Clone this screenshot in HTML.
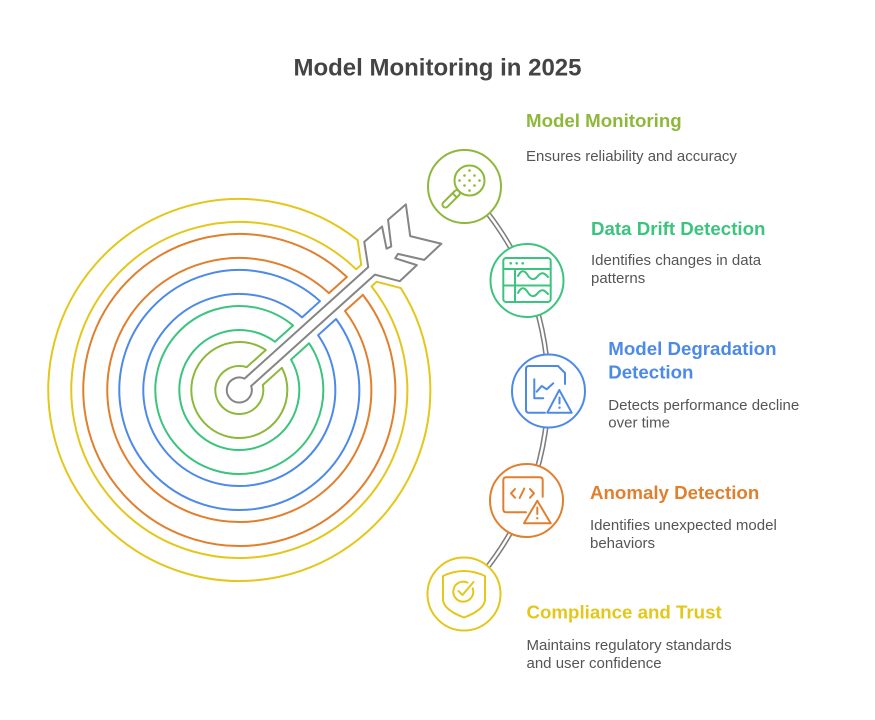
<!DOCTYPE html>
<html>
<head>
<meta charset="utf-8">
<style>
  html,body{margin:0;padding:0;background:#ffffff;}
  body{width:875px;height:720px;overflow:hidden;}
  svg{display:block;}
  .t{font-family:"Liberation Sans",Arial,sans-serif;}
</style>
</head>
<body>
<svg width="875" height="720" viewBox="0 0 875 720" xmlns="http://www.w3.org/2000/svg">
  <rect width="875" height="720" fill="#ffffff"/>

  <!-- Title -->
  <text class="t" x="437.5" y="75.5" text-anchor="middle" font-size="24" font-weight="bold" fill="#444444">Model Monitoring in 2025</text>

  <!-- Target rings + arrow -->
  <g transform="translate(239.3,390) rotate(-42)" fill="none" stroke-width="2" stroke-linejoin="round">
    <path stroke="#8DB83A" d="M46.48,12 A48,48 0 1 1 46.48,-12 L20.78,-12 A24,24 0 1 0 20.78,12 Z"/>
    <path stroke="#3CC47F" d="M83.14,12 A84,84 0 1 1 83.14,-12 L58.79,-12 A60,60 0 1 0 58.79,12 Z"/>
    <path stroke="#4D8AE8" d="M119.40,12 A120,120 0 1 1 119.40,-12 L95.25,-12 A96,96 0 1 0 95.25,12 Z"/>
    <path stroke="#E07F2E" d="M155.54,12 A156,156 0 1 1 155.54,-12 L131.45,-12 A132,132 0 1 0 131.45,12 Z"/>
    <path stroke="#E4C71C" d="M188.25,32.3 A191,191 0 1 1 188.25,-32.3 L174.5,-11.5 L167.6,-11.5 A168,168 0 1 0 167.6,11.5 L174.5,11.5 Z"/>
    <path stroke="#858585" d="M11.46,-5 L178,-5 L192,-26.5 L215.5,-26 L204,-6.5 L209,-5 L224.5,-27 L248,-26.5 L230,0 L248,26.5 L224.5,27 L209,5 L204,6.5 L215.5,26 L192,26.5 L178,5 L11.46,5 A12.5,12.5 0 1 1 11.46,-5 Z"/>
  </g>

  <!-- Connector rails -->
  <path d="M464.5,186.5 A306,306 0 0 1 527,280.5 A306,306 0 0 1 548.5,391 A306,306 0 0 1 526.5,500.5 A306,306 0 0 1 464,594" fill="none" stroke="#7d7d7d" stroke-width="5.5"/>
  <path d="M464.5,186.5 A306,306 0 0 1 527,280.5 A306,306 0 0 1 548.5,391 A306,306 0 0 1 526.5,500.5 A306,306 0 0 1 464,594" fill="none" stroke="#ffffff" stroke-width="2.4"/>

  <!-- Icon circles -->
  <circle cx="464.5" cy="186.5" r="36.5" fill="#ffffff" stroke="#8DB83A" stroke-width="2"/>
  <circle cx="527" cy="280.5" r="36.5" fill="#ffffff" stroke="#3CC47F" stroke-width="2"/>
  <circle cx="548.5" cy="391" r="36.5" fill="#ffffff" stroke="#4D8AE8" stroke-width="2"/>
  <circle cx="526.5" cy="500.5" r="36.5" fill="#ffffff" stroke="#E07F2E" stroke-width="2"/>
  <circle cx="464" cy="594" r="36.5" fill="#ffffff" stroke="#E4C71C" stroke-width="2"/>

  <!-- Icon 1: magnifier with dots -->
  <g stroke="#8DB83A" stroke-width="2" fill="none" stroke-linejoin="round">
    <g transform="translate(469.5,180.5) rotate(135)">
      <circle cx="0" cy="0" r="15"/>
      <rect x="15" y="-3" width="22" height="6" rx="3"/>
      <line x1="21" y1="-3" x2="21" y2="3"/>
    </g>
  </g>
  <g fill="#8DB83A">
    <circle cx="469.5" cy="170.5" r="1.3"/>
    <circle cx="464.5" cy="175.5" r="1.3"/>
    <circle cx="474.5" cy="175.5" r="1.3"/>
    <circle cx="459.5" cy="180.5" r="1.3"/>
    <circle cx="469.5" cy="180.5" r="1.3"/>
    <circle cx="479.5" cy="180.5" r="1.3"/>
    <circle cx="464.5" cy="185.5" r="1.3"/>
    <circle cx="474.5" cy="185.5" r="1.3"/>
    <circle cx="469.5" cy="190.5" r="1.3"/>
  </g>

  <!-- Icon 2: data drift window -->
  <g stroke="#3CC47F" stroke-width="2" fill="none" stroke-linejoin="round" stroke-linecap="round">
    <rect x="503.3" y="258" width="47.4" height="44" rx="3"/>
    <line x1="503.3" y1="269" x2="550.7" y2="269"/>
    <line x1="515" y1="269" x2="515" y2="302"/>
    <line x1="503.3" y1="285.5" x2="550.7" y2="285.5"/>
    <path d="M518,276 C521,270 524,270 527,274 C530,279 533,281 537,277 C540,273 543,272 546,275 L548,277"/>
    <path d="M518,293 C521,287 524,287 527,291 C530,296 533,298 537,294 C540,290 543,289 546,292 L548,294"/>
  </g>
  <g fill="#3CC47F">
    <circle cx="510.7" cy="263.3" r="1.3"/>
    <circle cx="516.7" cy="263.3" r="1.3"/>
    <circle cx="522.7" cy="263.3" r="1.3"/>
  </g>

  <!-- Icon 3: chart document with warning -->
  <g stroke="#4D8AE8" stroke-width="2" fill="none" stroke-linejoin="round" stroke-linecap="round">
    <path d="M565,384 L565,373 L558,366 L529,366 Q526,366 526,369 L526,409.7 Q526,412.7 529,412.7 L545,412.7"/>
    <path d="M534.3,379.3 L534.3,398.3 L543.3,398.3"/>
    <path d="M536.7,391.7 L541.7,386 L546.7,389.3 L553.3,383.3"/>
    <path d="M559.3,390 L571.7,412.7 L547.3,412.7 Z"/>
    <line x1="559.5" y1="397.5" x2="559.5" y2="403.5"/>
  </g>
  <circle cx="559.5" cy="407.7" r="1.2" fill="#4D8AE8"/>

  <!-- Icon 4: code window with warning -->
  <g stroke="#E07F2E" stroke-width="2" fill="none" stroke-linejoin="round" stroke-linecap="round">
    <path d="M526,512.3 L506.3,512.3 Q503.3,512.3 503.3,509.3 L503.3,480.3 Q503.3,477.3 506.3,477.3 L539.7,477.3 Q542.7,477.3 542.7,480.3 L542.7,496.7"/>
    <path d="M515,489 L511,493.3 L515,497.7"/>
    <path d="M524.3,488.5 L519.7,498"/>
    <path d="M530,489 L534,493.3 L530,497.7"/>
    <path d="M537.3,500.7 L550.7,523.3 L524,523.3 Z"/>
    <line x1="537.3" y1="507.5" x2="537.3" y2="514"/>
  </g>
  <circle cx="537.3" cy="518.3" r="1.2" fill="#E07F2E"/>

  <!-- Icon 5: shield with check -->
  <g stroke="#E4C71C" stroke-width="2" fill="none" stroke-linejoin="round" stroke-linecap="round">
    <path d="M443,576 Q464,566 485,576 L485,600 Q484,610 464,617.5 Q444,610 443,600 Z"/>
    <path d="M472.7,588.3 A10,10 0 1 1 467.5,582.6"/>
    <path d="M458.5,591 L462.5,595 L473.5,582"/>
  </g>

  <!-- Labels -->
  <g class="t">
    <text x="526" y="127" font-size="18.7" font-weight="bold" fill="#8DB83A">Model Monitoring</text>
    <text x="526" y="161" font-size="15" fill="#555555">Ensures reliability and accuracy</text>

    <text x="591" y="235" font-size="18.7" font-weight="bold" fill="#3CC47F">Data Drift Detection</text>
    <text x="591" y="265" font-size="15" fill="#555555">Identifies changes in data</text>
    <text x="591" y="283" font-size="15" fill="#555555">patterns</text>

    <text x="608.3" y="355" font-size="18.7" font-weight="bold" fill="#4D8AE8">Model Degradation</text>
    <text x="608.3" y="378.5" font-size="18.7" font-weight="bold" fill="#4D8AE8">Detection</text>
    <text x="608.3" y="410" font-size="15" fill="#555555">Detects performance decline</text>
    <text x="608.3" y="427.5" font-size="15" fill="#555555">over time</text>

    <text x="590" y="499" font-size="18.7" font-weight="bold" fill="#E07F2E">Anomaly Detection</text>
    <text x="590" y="530" font-size="15" fill="#555555">Identifies unexpected model</text>
    <text x="590" y="548" font-size="15" fill="#555555">behaviors</text>

    <text x="526.5" y="618.5" font-size="18.7" font-weight="bold" fill="#E4C71C">Compliance and Trust</text>
    <text x="526.5" y="650" font-size="15" fill="#555555">Maintains regulatory standards</text>
    <text x="526.5" y="668" font-size="15" fill="#555555">and user confidence</text>
  </g>
</svg>
</body>
</html>
